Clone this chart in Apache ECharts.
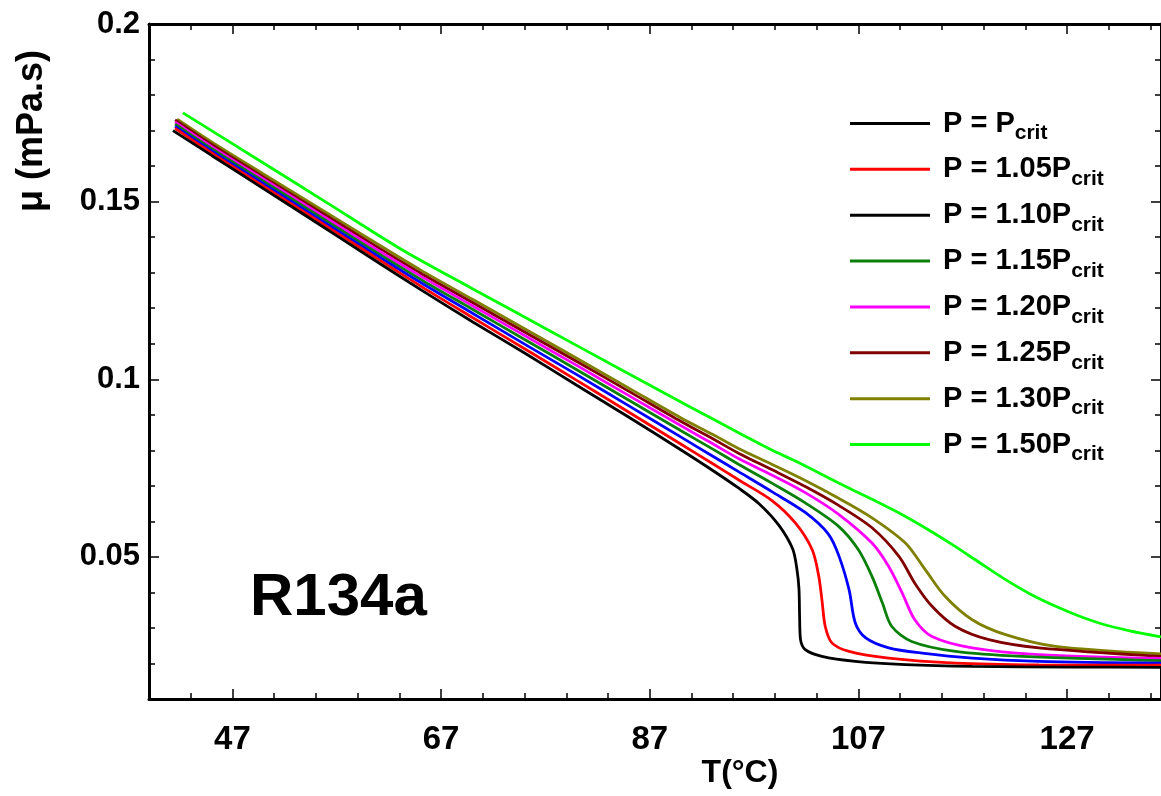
<!DOCTYPE html>
<html>
<head>
<meta charset="utf-8">
<script src="https://cdn.jsdelivr.net/npm/echarts@6/dist/echarts.min.js"></script>
<style>
html,body{margin:0;padding:0;background:#fff;}
#c{width:1161px;height:796px;}
</style>
</head>
<body>
<div id="c"></div>
<script>
// ---- data ----
const seriesNames = ['P = Pcrit','P = 1.05Pcrit','P = 1.10Pcrit','P = 1.15Pcrit','P = 1.20Pcrit','P = 1.25Pcrit','P = 1.30Pcrit','P = 1.50Pcrit'];
const seriesColors = ['#000000','#ff0000','#0000ff','#0a800a','#ff00ff','#800000','#808000','#00ff00'];
const legendColors = ['#000000','#ff0000','#000000','#0a800a','#ff00ff','#800000','#808000','#00ff00'];

const tP100 = [41.3,45,50,55,60,65,70,75,80,85,90,93,95.5,97.5,99.4,100.7,101.1,101.3,101.36,101.45,101.9,103.5,106.7,111.5,117.9,127.4,136];
const muP100 = [0.1700,0.1630,0.1536,0.1442,0.1347,0.1253,0.1162,0.1074,0.0983,0.0893,0.0801,0.0744,0.0694,0.0649,0.0588,0.0522,0.0466,0.0410,0.0332,0.0267,0.0239,0.0220,0.0206,0.0197,0.0192,0.0190,0.0189];

const tP105 = [41.5,45,50,55,60,65,70,75,80,85,90,93,95.5,98.74,100.97,102.57,103.2,103.5,103.82,104.46,106.1,109.9,116.3,124.3,136];
const muP105 = [0.1706,0.1637,0.1543,0.1450,0.1356,0.1263,0.1174,0.1086,0.0997,0.0907,0.0817,0.0763,0.0717,0.0658,0.0595,0.0520,0.0445,0.0379,0.0304,0.0258,0.0234,0.0215,0.0201,0.0196,0.0195];

const tP110 = [41.5,45,50,55,60,65,70,75,80,85,90,93,95.5,98.74,101.9,104.1,105.1,106.1,106.7,107.7,109.9,113.1,117.9,124.3,136];
const muP110 = [0.1712,0.1643,0.1550,0.1457,0.1364,0.1273,0.1186,0.1099,0.1013,0.0925,0.0837,0.0784,0.0740,0.0683,0.0625,0.0565,0.0505,0.0408,0.0314,0.0272,0.0244,0.0229,0.0215,0.0206,0.0201];

const tP115 = [41.5,45,50,55,60,65,70,75,80,85,90,93,95.5,98.74,101.9,105.1,107.0,108.3,109.3,110.2,112.1,116.3,122.7,136];
const muP115 = [0.1718,0.1649,0.1557,0.1465,0.1372,0.1282,0.1197,0.1112,0.1027,0.0941,0.0855,0.0804,0.0761,0.0707,0.0652,0.0586,0.0520,0.0445,0.0370,0.0304,0.0262,0.0234,0.0220,0.0208];

const tP120 = [41.5,45,50,55,60,65,70,75,80,85,90,93,95.5,98.74,101.9,105.1,108.3,109.9,111.2,112.4,114.05,117.9,124.3,136];
const muP120 = [0.1724,0.1655,0.1563,0.1472,0.1380,0.1291,0.1207,0.1123,0.1039,0.0954,0.0869,0.0819,0.0777,0.0730,0.0681,0.0620,0.0539,0.0473,0.0398,0.0323,0.0276,0.0244,0.0225,0.0214];

const tP125 = [41.5,45,50,55,60,65,70,75,80,85,90,93,95.5,98.74,101.9,105.1,108.3,110.9,112.4,114.05,116.3,119.5,124.3,136];
const muP125 = [0.1730,0.1661,0.1569,0.1479,0.1388,0.1299,0.1216,0.1133,0.1050,0.0966,0.0881,0.0833,0.0792,0.0745,0.0698,0.0645,0.0582,0.0501,0.0426,0.0361,0.0304,0.0267,0.0244,0.0220];

const tP130 = [41.7,45,50,55,60,65,70,75,80,85,90,93,95.5,98.74,101.9,105.1,108.3,111.5,113.4,115.3,117.9,121.1,125.9,136];
const muP130 = [0.1732,0.1668,0.1577,0.1487,0.1397,0.1308,0.1225,0.1142,0.1059,0.0975,0.0891,0.0845,0.0805,0.0760,0.0715,0.0665,0.0610,0.0539,0.0464,0.0389,0.0323,0.0281,0.0248,0.0227];

const tP150 = [42.25,50,56,63,70,77,84,91,96,98.74,101.3,105.1,108.3,111.5,113.9,116.3,118.7,121.1,123.5,125.9,128.2,130.6,133,136];
const muP150 = [0.1750,0.1608,0.1498,0.1369,0.1255,0.1143,0.1031,0.0920,0.0842,0.0800,0.0765,0.0708,0.0662,0.0614,0.0573,0.0529,0.0482,0.0436,0.0395,0.0361,0.0333,0.0309,0.0292,0.0275];

const xTickLabels = [47,67,87,107,127];
const yTickLabels = [0.05,0.1,0.15,0.2];

const tArrays = [tP100,tP105,tP110,tP115,tP120,tP125,tP130,tP150];
const muArrays = [muP100,muP105,muP110,muP115,muP120,muP125,muP130,muP150];

// ---- chart ----
const FONT = 'Liberation Sans, Arial, sans-serif';
const chart = echarts.init(document.getElementById('c'), null, {renderer:'canvas'});

const X_MIN = 39, X_MAX = 136, Y_MIN = 0.01, Y_MAX = 0.2;
const axisLine = {show:true, lineStyle:{color:'#000', width:3}};
function xAx(pos, major, labels){
  const a = {type:'value', position:pos, min:X_MIN, max:X_MAX, splitLine:{show:false},
    axisLine: major ? {show:false} : axisLine,
    axisTick:{show:true, inside:true, length: major?10:6, lineStyle:{color:'#000', width:1.5}},
    axisLabel:{show:false}};
  if (major){
    a.axisTick.customValues = xTickLabels;
    a.axisLabel = {show:labels, customValues:xTickLabels, margin:24, color:'#000',
      fontFamily:FONT, fontWeight:'bold', fontSize:33};
  } else {
    a.interval = 4;
  }
  return a;
}
function yAx(pos, major, labels){
  const a = {type:'value', position:pos, min:Y_MIN, max:Y_MAX, splitLine:{show:false},
    axisLine: major ? {show:false} : axisLine,
    axisTick:{show:true, inside:true, length: major?10:6, lineStyle:{color:'#000', width:1.5}},
    axisLabel:{show:false}};
  if (major){
    a.axisTick.customValues = yTickLabels;
    a.axisLabel = {show:labels, customValues:yTickLabels, margin:9, color:'#000',
      fontFamily:FONT, fontWeight:'bold', fontSize:31,
      formatter: v => String(+(+v).toFixed(2))};
  } else {
    a.interval = 0.01;
  }
  return a;
}

const series = seriesNames.map((n,i)=>({
  name:n, type:'line', xAxisIndex:0, yAxisIndex:0,
  symbol:'none', showSymbol:false, smooth:0.3,
  lineStyle:{color:seriesColors[i], width:2.8},
  itemStyle:{color:seriesColors[i]},
  data: tArrays[i].map((t,k)=>[t, muArrays[i][k]]),
  z: 10 - i
}));

chart.setOption({
  animation:false,
  backgroundColor:'#fff',
  grid:{left:149, top:24, width:1014, height:675, containLabel:false},
  xAxis:[xAx('bottom',false,false), xAx('bottom',true,true), xAx('top',false,false), xAx('top',true,false)],
  yAxis:[yAx('left',false,false), yAx('left',true,true), yAx('right',false,false), yAx('right',true,false)],
  legend:{
    orient:'vertical', left:850, top:103, padding:0, itemWidth:80, itemHeight:3, itemGap:4.86,
    icon:'rect',
    data: seriesNames.map((n,i)=>({name:n, icon:'rect', itemStyle:{color:legendColors[i]}})),
    formatter: n => '{a|' + n.slice(0,-4) + '}{b|crit}',
    textStyle:{
      color:'#000',
      rich:{
        a:{fontFamily:FONT, fontWeight:'bold', fontSize:29, lineHeight:30, color:'#000', padding:[0,0,0,8]},
        b:{fontFamily:FONT, fontWeight:'bold', fontSize:21, lineHeight:20, color:'#000', padding:[20,0,0,0]}
      }
    },
    selectedMode:false
  },
  graphic:[
    {type:'text', left:250, top:568, style:{text:'R134a', font:'bold 60px '+FONT, fill:'#000'}},
    {type:'text', x:32, y:131, rotation:Math.PI/2,
      style:{text:'\u03bc (mPa.s)', font:'bold 36px '+FONT, fill:'#000', align:'center', verticalAlign:'middle'}},
    {type:'text', x:740, y:773,
      style:{text:'T(\u00b0C)', font:'bold 32px '+FONT, fill:'#000', align:'center', verticalAlign:'middle'}}
  ],
  series: series
});
</script>
</body>
</html>
